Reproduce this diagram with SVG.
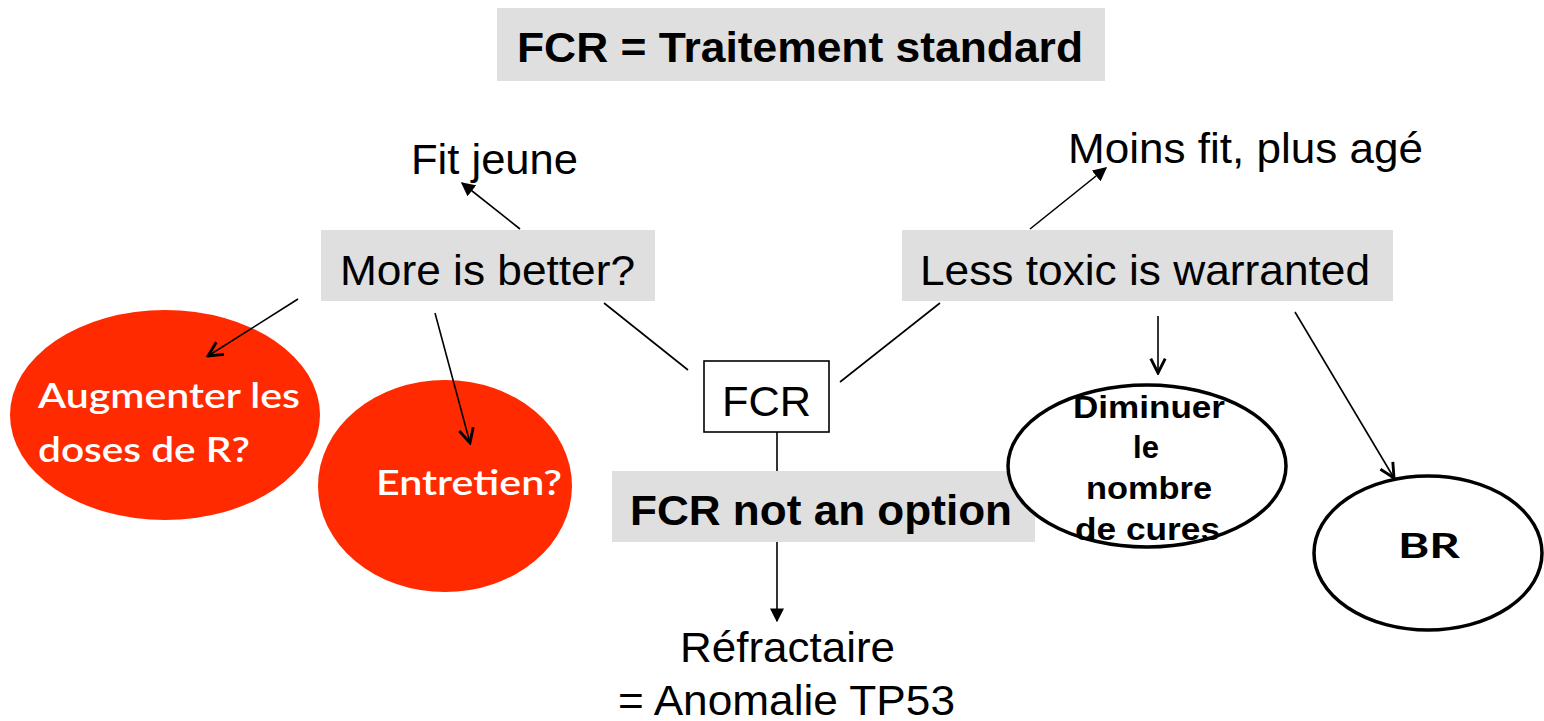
<svg xmlns="http://www.w3.org/2000/svg" width="1544" height="721" viewBox="0 0 1544 721">
<defs>
<marker id="tri" viewBox="0 0 10 10" refX="9" refY="5" markerWidth="14" markerHeight="14" markerUnits="userSpaceOnUse" orient="auto"><path d="M0,0 L10,5 L0,10 z" fill="#000"/></marker>
<marker id="vee" viewBox="0 0 10 10" refX="9" refY="5" markerWidth="18" markerHeight="18" markerUnits="userSpaceOnUse" orient="auto"><path d="M1,1 L9,5 L1,9" fill="none" stroke="#000" stroke-width="1.6"/></marker>
<style>
.box{fill:#dfdfdf}
.t{font-family:"Liberation Sans",Arial,sans-serif;fill:#000;font-size:42px}
.b{font-weight:bold}
.w{font-family:Lato,"Open Sans",sans-serif;fill:#fff;font-size:34px;font-weight:600}
.red{fill:#ff2a00}
.out{fill:#fff;stroke:#000;stroke-width:3.5}
.ln{stroke:#000;stroke-width:1.6;fill:none}
.lab{font-family:"Liberation Sans",Arial,sans-serif;font-weight:bold;font-size:31px;fill:#000}
</style>
</defs>
<g id="title"><rect class="box" x="497" y="8" width="608" height="73"/><text class="t b" x="517" y="62" font-size="43" textLength="566" lengthAdjust="spacingAndGlyphs">FCR = Traitement standard</text></g>
<g id="fit-jeune"><text class="t" x="411" y="174" textLength="167" lengthAdjust="spacingAndGlyphs">Fit jeune</text></g>
<g id="moins-fit"><text class="t" x="1068" y="163" textLength="355" lengthAdjust="spacingAndGlyphs">Moins fit, plus agé</text></g>
<g id="more-better"><rect class="box" x="321" y="230" width="334" height="71"/><text class="t" x="340" y="285" textLength="295" lengthAdjust="spacingAndGlyphs">More is better?</text></g>
<g id="less-toxic"><rect class="box" x="902" y="230" width="491" height="71"/><text class="t" x="920" y="285" textLength="450" lengthAdjust="spacingAndGlyphs">Less toxic is warranted</text></g>
<g id="augmenter"><ellipse class="red" cx="165" cy="415" rx="155" ry="105"/><text class="w" x="38" y="408" textLength="262" lengthAdjust="spacingAndGlyphs">Augmenter les</text><text class="w" x="38" y="462" textLength="212" lengthAdjust="spacingAndGlyphs">doses de R?</text></g>
<g id="entretien"><ellipse class="red" cx="445" cy="486" rx="127" ry="106"/><text class="w" x="376" y="495" textLength="186" lengthAdjust="spacingAndGlyphs">Entretien?</text></g>
<g id="fcr"><rect x="704" y="361" width="125" height="71" fill="#fff" stroke="#000" stroke-width="1.6"/><text class="t" x="722" y="416" textLength="89" lengthAdjust="spacingAndGlyphs">FCR</text></g>
<g id="not-option"><rect class="box" x="612" y="471" width="423" height="71"/><text class="t b" x="630" y="525" textLength="382" lengthAdjust="spacingAndGlyphs">FCR not an option</text></g>
<g id="refractaire"><text class="t" x="680" y="662" textLength="215" lengthAdjust="spacingAndGlyphs">Réfractaire</text><text class="t" x="618" y="715" textLength="337" lengthAdjust="spacingAndGlyphs">= Anomalie TP53</text></g>
<g id="diminuer"><ellipse class="out" cx="1147" cy="466" rx="139" ry="81"/><text class="lab" x="1073" y="418" textLength="152" lengthAdjust="spacingAndGlyphs">Diminuer</text><text class="lab" text-anchor="middle" x="1146" y="458">le</text><text class="lab" x="1086" y="499" textLength="126" lengthAdjust="spacingAndGlyphs">nombre</text><text class="lab" x="1075" y="540" textLength="145" lengthAdjust="spacingAndGlyphs">de cures</text></g>
<g id="br"><ellipse class="out" cx="1428" cy="553" rx="114" ry="77"/><text font-family="Lato,'Open Sans',sans-serif" font-weight="bold" font-size="35" x="1398" y="558" textLength="62" lengthAdjust="spacingAndGlyphs">BR</text></g>
<g id="connectors">
<line class="ln" x1="520" y1="229" x2="462" y2="183" marker-end="url(#tri)"/>
<line class="ln" x1="298" y1="299" x2="208" y2="356" marker-end="url(#vee)"/>
<line class="ln" x1="435" y1="313" x2="470" y2="443" marker-end="url(#vee)"/>
<line class="ln" x1="604" y1="303" x2="688" y2="370"/>
<line class="ln" x1="840" y1="382" x2="940" y2="303"/>
<line class="ln" x1="1030" y1="229" x2="1106" y2="168" marker-end="url(#tri)"/>
<line class="ln" x1="1158" y1="316" x2="1158" y2="373" marker-end="url(#vee)"/>
<line class="ln" x1="1295" y1="312" x2="1394" y2="478" marker-end="url(#vee)"/>
<line class="ln" x1="777" y1="432" x2="777" y2="471"/>
<line class="ln" x1="777" y1="542" x2="777" y2="621" marker-end="url(#tri)"/>
</g>
</svg>
